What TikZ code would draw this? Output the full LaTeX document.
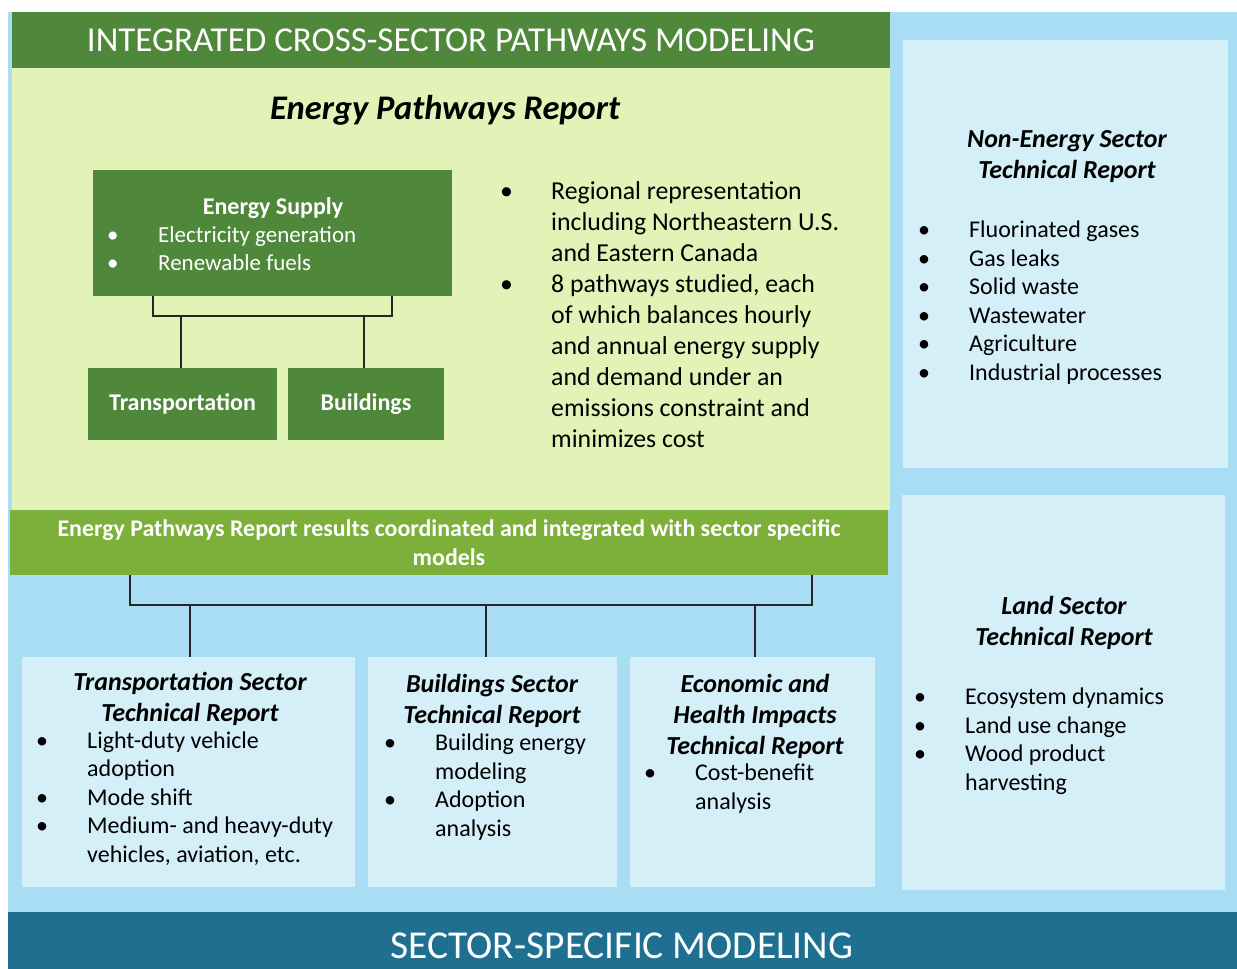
\documentclass[tikz,border=0pt]{standalone}
\usepackage{fontspec}
\setmainfont{Carlito}
\usetikzlibrary{positioning}

\definecolor{headgreen}{RGB}{79,136,59}
\definecolor{palegreen}{RGB}{227,242,182}
\definecolor{bargreen}{RGB}{124,176,58}
\definecolor{skyblue}{RGB}{168,221,244}
\definecolor{paleblue}{RGB}{213,239,249}
\definecolor{deepteal}{RGB}{31,112,144}

\newcommand{\bitem}[1]{\makebox[51pt][l]{\textbullet}#1}
\newcommand{\cont}[1]{\hspace*{51pt}#1}

\begin{document}
\begin{tikzpicture}[x=1pt,y=-1pt,
  panel/.style={anchor=north west,inner sep=0pt,outer sep=0pt},
  report/.style={font=\fontsize{26}{31}\selectfont\bfseries\itshape,align=center},
  items/.style={font=\fontsize{24}{28.5}\selectfont,align=left,anchor=base west,inner sep=0pt},
  link/.style={draw=black!85,line width=2pt}]
\useasboundingbox (0,0) rectangle (1237,969);
\fill[white] (0,0) rectangle (1237,969);

% backgrounds
\node[panel,fill=skyblue,minimum width=1229pt,minimum height=957pt] (sectorbg) at (8,12) {};
\node[panel,fill=palegreen,minimum width=878pt,minimum height=498pt] (crossbg) at (12,12) {};
\node[panel,fill=headgreen,minimum width=878pt,minimum height=56pt,text=white,
  font=\fontsize{35}{40}\selectfont] (crosshead) at (12,12) {INTEGRATED CROSS-SECTOR PATHWAYS MODELING};

% energy pathways report
\node[font=\fontsize{34.5}{40}\selectfont\bfseries\itshape] (eprtitle) at (445,110) {Energy Pathways Report};
\node[panel,fill=headgreen,minimum width=359pt,minimum height=126pt] (supply) at (93,170) {};
\node[font=\fontsize{24}{28}\selectfont\bfseries,text=white] (supplyname) at (273,208) {Energy Supply};
\node[items,text=white,font=\fontsize{23}{28}\selectfont] (supplylist) at (107,270)
  {\bitem{Electricity generation}\\\bitem{Renewable fuels}};
\node[panel,fill=headgreen,minimum width=189pt,minimum height=72pt,text=white,
  font=\fontsize{24}{28}\selectfont\bfseries] (transbox) at (88,368) {Transportation};
\node[panel,fill=headgreen,minimum width=156pt,minimum height=72pt,text=white,
  font=\fontsize{24}{28}\selectfont\bfseries] (bldbox) at (288,368) {Buildings};
\node[items,font=\fontsize{25.8}{31}\selectfont] (eprlist) at (500,447)
  {\bitem{Regional representation}\\\cont{including Northeastern U.S.}\\\cont{and Eastern Canada}\\
   \bitem{8 pathways studied, each}\\\cont{of which balances hourly}\\\cont{and annual energy supply}\\
   \cont{and demand under an}\\\cont{emissions constraint and}\\\cont{minimizes cost}};

\coordinate (sjoinL) at (153,316);
\coordinate (sjoinR) at (392,316);
\draw[link] (supply.south -| sjoinL) -- (sjoinL) -- (sjoinR) -- (supply.south -| sjoinR);
\draw[link] ([xshift=-2pt]transbox.north) -- ([xshift=-2pt]transbox.north |- sjoinL);
\draw[link] ([xshift=-2pt]bldbox.north) -- ([xshift=-2pt]bldbox.north |- sjoinL);

\node[panel,fill=bargreen,minimum width=878pt,minimum height=65pt,text=white,align=center,
  font=\fontsize{23.9}{29}\selectfont\bfseries] (resultsbar) at (10,510)
  {Energy Pathways Report results coordinated and integrated with sector specific\\models};

% non-energy and land
\node[panel,fill=paleblue,minimum width=325pt,minimum height=428pt] (nonbox) at (903,40) {};
\node[report] (nontitle) at (1067,157) {Non-Energy Sector\\Technical Report};
\node[items] (nonlist) at (918,380)
  {\bitem{Fluorinated gases}\\\bitem{Gas leaks}\\\bitem{Solid waste}\\\bitem{Wastewater}\\
   \bitem{Agriculture}\\\bitem{Industrial processes}};
\node[panel,fill=paleblue,minimum width=323pt,minimum height=395pt] (landbox) at (902,495) {};
\node[report] (landtitle) at (1064,623) {Land Sector\\Technical Report};
\node[items] (landlist) at (914,790)
  {\bitem{Ecosystem dynamics}\\\bitem{Land use change}\\\bitem{Wood product}\\\cont{harvesting}};

% sector technical reports
\node[panel,fill=paleblue,minimum width=333pt,minimum height=230pt] (transsec) at (22,657) {};
\node[report] (transtitle) at (190,699) {Transportation Sector\\Technical Report};
\node[items] (translist) at (36,862)
  {\bitem{Light-duty vehicle}\\\cont{adoption}\\\bitem{Mode shift}\\
   \bitem{Medium- and heavy-duty}\\\cont{vehicles, aviation, etc.}};
\node[panel,fill=paleblue,minimum width=249pt,minimum height=230pt] (bldsec) at (368,657) {};
\node[report] (bldtitle) at (492,701) {Buildings Sector\\Technical Report};
\node[items] (bldlist) at (384,836)
  {\bitem{Building energy}\\\cont{modeling}\\\bitem{Adoption}\\\cont{analysis}};
\node[panel,fill=paleblue,minimum width=245pt,minimum height=230pt] (econsec) at (630,657) {};
\node[report] (econtitle) at (755,716) {Economic and\\Health Impacts\\Technical Report};
\node[items] (econlist) at (644,809)
  {\bitem{Cost-benefit}\\\cont{analysis}};

\coordinate (rjoinL) at (130,605);
\coordinate (rjoinR) at (812,605);
\draw[link] (resultsbar.south -| rjoinL) -- (rjoinL) -- (rjoinR) -- (resultsbar.south -| rjoinR);
\draw[link] ([xshift=1pt]transsec.north) -- ([xshift=1pt]transsec.north |- rjoinL);
\draw[link] ([xshift=-7pt]bldsec.north) -- ([xshift=-7pt]bldsec.north |- rjoinL);
\draw[link] ([xshift=2pt]econsec.north) -- ([xshift=2pt]econsec.north |- rjoinL);

% bottom band
\node[panel,fill=deepteal,minimum width=1229pt,minimum height=57pt] (sectorband) at (8,912) {};
\node[text=white,font=\fontsize{39.5}{44}\selectfont] (sectorname) at (622,946) {SECTOR-SPECIFIC MODELING};
\end{tikzpicture}
\end{document}
